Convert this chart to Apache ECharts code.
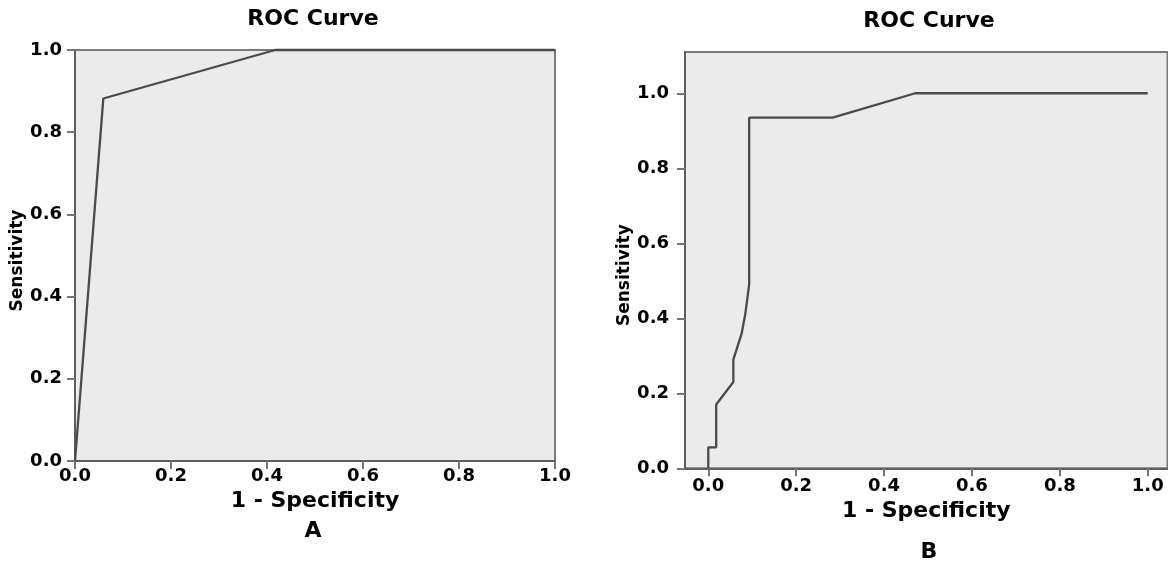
<!DOCTYPE html>
<html><head><meta charset="utf-8">
<script src="https://cdn.jsdelivr.net/npm/echarts@6/dist/echarts.min.js"></script>
<style>html,body{margin:0;padding:0;background:#fff}#c{width:1168px;height:568px}</style>
</head><body><div id="c"></div>
<script>
const titleText = 'ROC Curve';
const xName = '1 - Specificity';
const yName = 'Sensitivity';
const panelLabels = ['A', 'B'];
const tickValues = [0, 0.2, 0.4, 0.6, 0.8, 1.0];
const rocA_fpr = [0, 0.059, 0.417, 1.0];
const rocA_tpr = [0, 0.882, 1.0, 1.0];
const rocB_fpr = [0, 0, 0.018, 0.018, 0.057, 0.057, 0.076, 0.084, 0.093, 0.093, 0.283, 0.471, 1.0];
const rocB_tpr = [0, 0.056, 0.056, 0.17, 0.23, 0.29, 0.36, 0.41, 0.49, 0.935, 0.935, 1.0, 1.0];

const FONT = 'DejaVu Sans';
const pairs = (xs, ys) => xs.map((x, i) => [x, ys[i]]);
const fmt = v => Number(v).toFixed(1);

function xAxisCfg(gi, min, max, margin, nameGap) {
  return {
    type: 'value', gridIndex: gi, min, max,
    axisLine: { show: true, onZero: false, lineStyle: { color: '#5e5e5e', width: 2 } },
    axisTick: { show: true, inside: false, length: 8, customValues: tickValues, lineStyle: { color: '#777', width: 2 } },
    axisLabel: { show: true, customValues: tickValues, formatter: fmt, margin, color: '#000', fontFamily: FONT, fontWeight: 'bold', fontSize: 18 },
    splitLine: { show: false },
    name: xName, nameLocation: 'middle', nameGap,
    nameTextStyle: { color: '#000', fontFamily: FONT, fontWeight: 'bold', fontSize: 22 }
  };
}
function yAxisCfg(gi, min, max, margin, nameGap, pad) {
  return {
    type: 'value', gridIndex: gi, min, max,
    axisLine: { show: true, onZero: false, lineStyle: { color: '#5e5e5e', width: 2 } },
    axisTick: { show: true, inside: false, length: 8, customValues: tickValues, lineStyle: { color: '#777', width: 2 } },
    axisLabel: { show: true, customValues: tickValues, formatter: fmt, margin, color: '#000', fontFamily: FONT, fontWeight: 'bold', fontSize: 18 },
    splitLine: { show: false },
    name: yName, nameLocation: 'middle', nameGap, nameRotate: 90,
    nameTextStyle: { color: '#000', fontFamily: FONT, fontWeight: 'bold', fontSize: 17, padding: pad }
  };
}

const chart = echarts.init(document.getElementById('c'), null, { renderer: 'canvas' });
chart.setOption({
  animation: false,
  backgroundColor: '#fff',
  title: [
    { text: titleText, left: 313, top: 8, textAlign: 'center', padding: 0, textStyle: { fontFamily: FONT, fontWeight: 'bold', fontSize: 22, color: '#000' } },
    { text: titleText, left: 929, top: 10, textAlign: 'center', padding: 0, textStyle: { fontFamily: FONT, fontWeight: 'bold', fontSize: 22, color: '#000' } },
    { text: panelLabels[0], left: 313, top: 520, textAlign: 'center', padding: 0, textStyle: { fontFamily: FONT, fontWeight: 'bold', fontSize: 22, color: '#000' } },
    { text: panelLabels[1], left: 929, top: 541, textAlign: 'center', padding: 0, textStyle: { fontFamily: FONT, fontWeight: 'bold', fontSize: 22, color: '#000' } }
  ],
  grid: [
    { left: 75, top: 50, width: 480, height: 411, show: true, backgroundColor: '#ebebeb', borderColor: '#7a7a7a', borderWidth: 2 },
    { left: 685, top: 52, width: 482.5, height: 416.3, show: true, backgroundColor: '#ebebeb', borderColor: '#7a7a7a', borderWidth: 2 }
  ],
  xAxis: [
    xAxisCfg(0, 0, 1, 6, 22),
    xAxisCfg(1, -0.053, 1.045, 9, 30)
  ],
  yAxis: [
    yAxisCfg(0, 0, 1, 13, 48, [0, 10, 0, 0]),
    yAxisCfg(1, 0, 1.11, 16, 52, [0, 30, 0, 0])
  ],
  series: [
    { type: 'line', xAxisIndex: 0, yAxisIndex: 0, data: pairs(rocA_fpr, rocA_tpr), showSymbol: false, symbol: 'none', clip: false,
      lineStyle: { color: '#4a4a4a', width: 2.3 } },
    { type: 'line', xAxisIndex: 1, yAxisIndex: 1, data: pairs(rocB_fpr, rocB_tpr), showSymbol: false, symbol: 'none', clip: false,
      lineStyle: { color: '#4a4a4a', width: 2.3 } }
  ]
});
</script>
</body></html>
